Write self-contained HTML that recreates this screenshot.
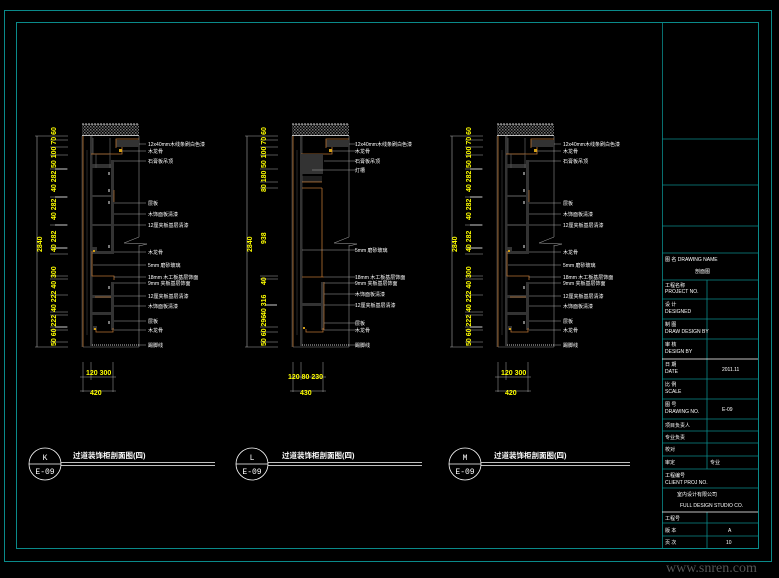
<!DOCTYPE html>
<html><head><meta charset="utf-8"><style>
html,body{margin:0;padding:0;background:#000;width:779px;height:578px;overflow:hidden}
svg{display:block}
.t{font-family:"Liberation Sans","Noto Sans CJK SC",sans-serif;fill:#fff;font-size:5px}
.y{font-family:"Liberation Sans",sans-serif;fill:#ff0;font-size:7px;font-weight:bold}
.tb{font-family:"Liberation Sans","Noto Sans CJK SC",sans-serif;fill:#fff;font-size:5px}
</style></head><body>
<svg width="779" height="578" viewBox="0 0 779 578" xmlns="http://www.w3.org/2000/svg">
<defs>
<pattern id="hat" width="3" height="3" patternUnits="userSpaceOnUse"><rect width="3" height="3" fill="#000"/><rect width="1.5" height="1.5" fill="#777"/><rect x="1.5" y="1.5" width="1.5" height="1.5" fill="#555"/></pattern>
<g id="base">
 <!-- slab -->
 <rect x="52" y="4" width="57" height="11" fill="url(#hat)"/>
 <line x1="52" y1="4" x2="109" y2="4" stroke="#fff" stroke-width="0.7" stroke-dasharray="2,1"/>
 <line x1="52" y1="15.5" x2="109" y2="15.5" stroke="#fff" stroke-width="0.8"/>
 <!-- overall dimension -->
 <line x1="7" y1="16" x2="7" y2="227" stroke="#aaa" stroke-width="0.6"/>
 <line x1="5" y1="16" x2="38" y2="16" stroke="#aaa" stroke-width="0.5"/>
 <line x1="5" y1="227" x2="38" y2="227" stroke="#aaa" stroke-width="0.5"/>
 <text class="y" transform="translate(12,132) rotate(-90)">2840</text>
 <!-- wall -->
 <line x1="53" y1="16" x2="53" y2="227" stroke="#b87333" stroke-width="0.8"/>
 <line x1="52" y1="16" x2="52" y2="227" stroke="#444" stroke-width="0.8"/>
 <line x1="57" y1="30" x2="57" y2="215" stroke="#333" stroke-width="0.8"/>
 <rect x="60" y="16" width="2.5" height="210" fill="#333"/>
 <!-- right dashed/boundary -->
 <line x1="109" y1="16" x2="109" y2="117" stroke="#aaa" stroke-width="0.5"/>
 <line x1="109" y1="125" x2="109" y2="227" stroke="#aaa" stroke-width="0.5"/>
 <polyline points="109,117 94,123 117,124 109,126" fill="none" stroke="#aaa" stroke-width="0.5"/>
 <line x1="62" y1="225" x2="109" y2="225" stroke="#fff" stroke-width="0.8" stroke-dasharray="1,1"/>
 <line x1="53" y1="227" x2="109" y2="227" stroke="#888" stroke-width="0.5"/>
 <!-- bottom dims -->
 <line x1="53" y1="242" x2="53" y2="272" stroke="#aaa" stroke-width="0.5"/>
 <line x1="61" y1="242" x2="61" y2="260" stroke="#aaa" stroke-width="0.5"/>
 <line x1="83" y1="242" x2="83" y2="272" stroke="#aaa" stroke-width="0.5"/>
 <line x1="50" y1="257" x2="86" y2="257" stroke="#aaa" stroke-width="0.5"/>
 <line x1="50" y1="271" x2="86" y2="271" stroke="#aaa" stroke-width="0.5"/>
</g>
<g id="cab">
 <!-- ceiling box -->
 <rect x="86" y="20" width="23" height="7" fill="#333"/>
 <polyline points="86,28 86,19 109,19" fill="none" stroke="#b87333" stroke-width="0.8"/>
 <polyline points="63,18 63,34 80,34 80,18" fill="none" stroke="#555" stroke-width="0.8"/>
 <polyline points="61,34 92,34 92,27" fill="none" stroke="#b87333" stroke-width="0.8"/>
 <rect x="89" y="29" width="3" height="3" fill="#d4a017"/>
 <rect x="61" y="44" width="22" height="4" fill="#333"/>
 <line x1="66" y1="34" x2="66" y2="48" stroke="#555" stroke-width="0.8"/>
 <line x1="80" y1="34" x2="80" y2="48" stroke="#555" stroke-width="0.8"/>
 <!-- upper cabinet -->
 <rect x="81" y="40" width="3" height="93" fill="#333"/>
 <rect x="61" y="75" width="21" height="2" fill="#333"/>
 <rect x="61" y="104" width="21" height="2" fill="#333"/>
 <rect x="61" y="131" width="23" height="3" fill="#333"/>
 <line x1="84" y1="70" x2="84" y2="82" stroke="#b87333" stroke-width="0.7"/>
 <rect x="62" y="127" width="5" height="5" fill="#333"/>
 <rect x="63" y="130" width="2" height="2" fill="#d4a017"/>
 <rect x="78" y="52" width="2" height="3" fill="#777"/>
 <rect x="78" y="69" width="2" height="3" fill="#777"/>
 <rect x="78" y="81" width="2" height="3" fill="#777"/>
 <rect x="78" y="125" width="2" height="3" fill="#777"/>
 <!-- middle -->
 <polyline points="62,131 62,156 84,156 84,160" fill="none" stroke="#b87333" stroke-width="0.8"/>
 <!-- lower cabinet -->
 <rect x="81" y="162" width="3" height="48" fill="#333"/>
 <rect x="61" y="175" width="22" height="3" fill="#333"/>
 <rect x="61" y="192" width="22" height="3" fill="#333"/>
 <line x1="65" y1="177" x2="81" y2="177" stroke="#b87333" stroke-width="0.7"/>
 <polyline points="66,209 66,212 83,212 83,208" fill="none" stroke="#b87333" stroke-width="0.8"/>
 <rect x="63" y="206" width="4" height="4" fill="#333"/>
 <rect x="64" y="208" width="2" height="2" fill="#d4a017"/>
 <rect x="78" y="166" width="2" height="3" fill="#777"/>
 <rect x="78" y="201" width="2" height="3" fill="#777"/>
 <!-- dim ticks -->
 <g stroke="#aaa" stroke-width="0.5">
  <line x1="20" y1="20" x2="38" y2="20"/><line x1="20" y1="27" x2="38" y2="27"/><line x1="20" y1="35" x2="38" y2="35"/>
  <line x1="20" y1="49" x2="38" y2="49"/><line x1="20" y1="77" x2="38" y2="77"/><line x1="20" y1="105" x2="38" y2="105"/>
  <line x1="20" y1="128" x2="38" y2="128"/><line x1="20" y1="134" x2="38" y2="134"/><line x1="20" y1="156" x2="38" y2="156"/>
  <line x1="20" y1="159" x2="38" y2="159"/><line x1="20" y1="175" x2="38" y2="175"/><line x1="20" y1="192" x2="38" y2="192"/>
  <line x1="20" y1="195" x2="38" y2="195"/><line x1="20" y1="207" x2="38" y2="207"/><line x1="20" y1="210" x2="38" y2="210"/>
  <line x1="20" y1="222" x2="38" y2="222"/>
 </g>
 <g fill="#666"><rect x="25" y="48" width="12" height="2"/><rect x="25" y="76" width="12" height="2"/><rect x="25" y="104" width="12" height="2"/><rect x="25" y="127" width="12" height="2"/><rect x="25" y="206" width="12" height="2"/></g>
 <text class="y" transform="translate(26,48) rotate(-90)">50 100 70 60</text>
 <text class="y" transform="translate(26,72) rotate(-90)">40  282</text>
 <text class="y" transform="translate(26,100) rotate(-90)">40  282</text>
 <text class="y" transform="translate(26,132) rotate(-90)">40  282</text>
 <text class="y" transform="translate(26,158) rotate(-90)">300</text>
 <text class="y" transform="translate(26,192) rotate(-90)">40 222 40</text>
 <text class="y" transform="translate(26,226) rotate(-90)">50 60 222</text>
 <text class="y" x="56" y="255" font-size="6">120  300</text>
 <text class="y" x="60" y="275" font-size="6">420</text>
 <!-- leaders -->
 <g stroke="#aaa" stroke-width="0.5">
  <line x1="109" y1="24" x2="116" y2="24"/><line x1="92" y1="31" x2="116" y2="31"/><line x1="84" y1="41" x2="116" y2="41"/>
  <line x1="84" y1="83" x2="116" y2="83"/><line x1="84" y1="94" x2="116" y2="94"/><line x1="84" y1="105" x2="116" y2="105"/>
  <line x1="84" y1="132" x2="116" y2="132"/><line x1="63" y1="145" x2="116" y2="145"/><line x1="84" y1="157" x2="116" y2="157"/>
  <line x1="84" y1="163" x2="116" y2="163"/><line x1="84" y1="176" x2="116" y2="176"/><line x1="84" y1="186" x2="116" y2="186"/>
  <line x1="84" y1="201" x2="116" y2="201"/><line x1="84" y1="210" x2="116" y2="210"/><line x1="109" y1="225" x2="116" y2="225"/>
 </g>
 <g class="t">
  <text x="118" y="26">12x40mm木线条刷白色漆</text><text x="118" y="33">木龙骨</text><text x="118" y="43">石膏板吊顶</text>
  <text x="118" y="85">层板</text><text x="118" y="96">木饰面板清漆</text><text x="118" y="107">12厘夹板基层清漆</text>
  <text x="118" y="134">木龙骨</text><text x="118" y="147">5mm 磨砂玻璃</text><text x="118" y="159">18mm 木工板基层饰面</text>
  <text x="118" y="165">9mm 夹板基层饰面</text><text x="118" y="178">12厘夹板基层清漆</text><text x="118" y="188">木饰面板清漆</text>
  <text x="118" y="203">层板</text><text x="118" y="212">木龙骨</text><text x="118" y="227">踢脚线</text>
 </g>
</g>
</defs>

<!-- frames -->
<rect x="4.5" y="10.5" width="767" height="551" fill="none" stroke="#0a8a8a" stroke-width="1"/>
<rect x="16.5" y="22.5" width="742" height="526" fill="none" stroke="#0a8a8a" stroke-width="1"/>

<!-- K -->
<g transform="translate(30,120)"><use href="#base"/><use href="#cab"/></g>
<!-- M -->
<g transform="translate(445,120)"><use href="#base"/><use href="#cab"/></g>
<!-- L -->
<g transform="translate(240,120)">
 <use href="#base"/>
 <rect x="86" y="20" width="23" height="7" fill="#333"/>
 <polyline points="86,28 86,19 109,19" fill="none" stroke="#b87333" stroke-width="0.8"/>
 <polyline points="61,34 92,34 92,27" fill="none" stroke="#b87333" stroke-width="0.8"/>
 <rect x="89" y="29" width="3" height="3" fill="#d4a017"/>
 <rect x="60" y="34" width="23" height="20" fill="#333"/>
 <g stroke="#777" stroke-width="0.5"><line x1="62" y1="57" x2="82" y2="57"/><line x1="62" y1="59" x2="82" y2="59"/><line x1="62" y1="61" x2="82" y2="61"/></g>
 <line x1="62" y1="62" x2="82" y2="62" stroke="#b87333" stroke-width="0.8"/>
 <line x1="62" y1="68" x2="82" y2="68" stroke="#b87333" stroke-width="0.8"/>
 <line x1="82" y1="68" x2="82" y2="157" stroke="#b87333" stroke-width="0.8"/>
 <line x1="62" y1="157" x2="84" y2="157" stroke="#b87333" stroke-width="0.8"/>
 <rect x="81" y="162" width="3" height="48" fill="#333"/>
 <line x1="84" y1="162" x2="84" y2="210" stroke="#b87333" stroke-width="0.7"/>
 <rect x="61" y="183" width="22" height="3" fill="#333"/>
 <polyline points="66,209 66,212 83,212 83,208" fill="none" stroke="#b87333" stroke-width="0.8"/>
 <rect x="63" y="207" width="2" height="2" fill="#d4a017"/>
 <g stroke="#aaa" stroke-width="0.5">
  <line x1="20" y1="20" x2="38" y2="20"/><line x1="20" y1="27" x2="38" y2="27"/><line x1="20" y1="35" x2="38" y2="35"/>
  <line x1="20" y1="49" x2="38" y2="49"/><line x1="20" y1="62" x2="38" y2="62"/><line x1="20" y1="68" x2="38" y2="68"/>
  <line x1="20" y1="156" x2="38" y2="156"/><line x1="20" y1="159" x2="38" y2="159"/><line x1="20" y1="207" x2="38" y2="207"/>
  <line x1="20" y1="212" x2="38" y2="212"/><line x1="20" y1="222" x2="38" y2="222"/>
 </g>
 <rect x="25" y="184" width="12" height="2" fill="#666"/>
 <text class="y" transform="translate(26,48) rotate(-90)">50 100 70 60</text>
 <text class="y" transform="translate(26,72) rotate(-90)">80 180</text>
 <text class="y" transform="translate(26,124) rotate(-90)">938</text>
 <text class="y" transform="translate(26,165) rotate(-90)">40</text>
 <text class="y" transform="translate(26,196) rotate(-90)">40 316</text>
 <text class="y" transform="translate(26,226) rotate(-90)">50 60 296</text>
 <text class="y" x="48" y="259" font-size="6">120 80 230</text>
 <text class="y" x="60" y="275" font-size="6">430</text>
 <g stroke="#aaa" stroke-width="0.5">
  <line x1="109" y1="24" x2="116" y2="24"/><line x1="92" y1="31" x2="116" y2="31"/><line x1="84" y1="41" x2="116" y2="41"/>
  <line x1="72" y1="50" x2="116" y2="50"/><line x1="62" y1="130" x2="116" y2="130"/><line x1="84" y1="157" x2="116" y2="157"/>
  <line x1="84" y1="163" x2="116" y2="163"/><line x1="84" y1="174" x2="116" y2="174"/><line x1="84" y1="185" x2="116" y2="185"/>
  <line x1="84" y1="203" x2="116" y2="203"/><line x1="84" y1="210" x2="116" y2="210"/><line x1="109" y1="225" x2="116" y2="225"/>
 </g>
 <g class="t">
  <text x="115" y="26">12x40mm木线条刷白色漆</text><text x="115" y="33">木龙骨</text><text x="115" y="43">石膏板吊顶</text>
  <text x="115" y="52">灯槽</text><text x="115" y="132">5mm 磨砂玻璃</text><text x="115" y="159">18mm 木工板基层饰面</text>
  <text x="115" y="165">9mm 夹板基层饰面</text><text x="115" y="176">木饰面板清漆</text><text x="115" y="187">12厘夹板基层清漆</text>
  <text x="115" y="205">层板</text><text x="115" y="212">木龙骨</text><text x="115" y="227">踢脚线</text>
 </g>
</g>

<!-- title marks -->
<g stroke="#fff" stroke-width="0.8" fill="none">
 <circle cx="45" cy="464" r="16"/><line x1="29" y1="464" x2="61" y2="464"/>
 <line x1="61" y1="462.5" x2="215" y2="462.5"/><line x1="61" y1="465.5" x2="215" y2="465.5"/>
 <circle cx="252" cy="464" r="16"/><line x1="236" y1="464" x2="268" y2="464"/>
 <line x1="268" y1="462.5" x2="422" y2="462.5"/><line x1="268" y1="465.5" x2="422" y2="465.5"/>
 <circle cx="465" cy="464" r="16"/><line x1="449" y1="464" x2="481" y2="464"/>
 <line x1="481" y1="462.5" x2="630" y2="462.5"/><line x1="481" y1="465.5" x2="630" y2="465.5"/>
</g>
<g font-family="Liberation Mono,monospace" fill="#fff" font-size="8" text-anchor="middle">
 <text x="45" y="460">K</text><text x="45" y="474">E-09</text>
 <text x="252" y="460">L</text><text x="252" y="474">E-09</text>
 <text x="465" y="460">M</text><text x="465" y="474">E-09</text>
</g>
<g font-family="Liberation Sans,Noto Sans CJK SC,sans-serif" fill="#fff" font-size="7.5" font-weight="bold">
 <text x="73" y="458">过道装饰柜剖面图(四)</text>
 <text x="282" y="458">过道装饰柜剖面图(四)</text>
 <text x="494" y="458">过道装饰柜剖面图(四)</text>
</g>

<!-- title block -->
<g stroke="#0a8a8a" stroke-width="0.8">
 <line x1="662.5" y1="22" x2="662.5" y2="548"/>
 <line x1="662" y1="139" x2="758" y2="139"/><line x1="662" y1="185" x2="758" y2="185"/>
 <line x1="662" y1="226" x2="758" y2="226"/><line x1="662" y1="253" x2="758" y2="253"/>
 <line x1="662" y1="280" x2="758" y2="280"/><line x1="662" y1="299" x2="758" y2="299"/>
 <line x1="662" y1="319" x2="758" y2="319"/><line x1="662" y1="339" x2="758" y2="339"/>
 <line x1="662" y1="379" x2="758" y2="379"/><line x1="662" y1="399" x2="758" y2="399"/>
 <line x1="662" y1="419" x2="758" y2="419"/><line x1="662" y1="431" x2="758" y2="431"/>
 <line x1="662" y1="443" x2="758" y2="443"/><line x1="662" y1="456" x2="758" y2="456"/>
 <line x1="662" y1="469" x2="758" y2="469"/><line x1="662" y1="488" x2="758" y2="488"/>
 <line x1="662" y1="523" x2="758" y2="523"/><line x1="662" y1="536" x2="758" y2="536"/>
 <line x1="707" y1="280" x2="707" y2="359"/><line x1="707" y1="359" x2="707" y2="469"/>
 <line x1="707" y1="512" x2="707" y2="548"/>
</g>
<line x1="662" y1="359" x2="758" y2="359" stroke="#fff" stroke-width="0.8"/>
<line x1="662" y1="512" x2="758" y2="512" stroke="#fff" stroke-width="0.8"/>
<g class="tb">
 <text x="665" y="261">图  名 DRAWING NAME</text><text x="695" y="273">剖面图</text>
 <text x="665" y="287">工程名称</text><text x="665" y="293">PROJECT NO.</text>
 <text x="665" y="306">设  计</text><text x="665" y="313">DESIGNED</text>
 <text x="665" y="326">制  图</text><text x="665" y="333">DRAW DESIGN BY</text>
 <text x="665" y="346">审  核</text><text x="665" y="353">DESIGN BY</text>
 <text x="665" y="366">日  期</text><text x="665" y="373">DATE</text><text x="722" y="371">2011.11</text>
 <text x="665" y="386">比  例</text><text x="665" y="393">SCALE</text>
 <text x="665" y="406">图  号</text><text x="665" y="413">DRAWING NO.</text><text x="722" y="411">E-09</text>
 <text x="665" y="427">项目负责人</text><text x="665" y="439">专业负责</text><text x="665" y="451">校对</text>
 <text x="665" y="464">审定</text><text x="710" y="464">专业</text>
 <text x="665" y="477">工程编号</text><text x="665" y="484">CLIENT PROJ NO.</text>
 <text x="677" y="496">室内设计有限公司</text><text x="680" y="507">FULL DESIGN STUDIO CO.</text>
 <text x="665" y="520">工程号</text>
 <text x="665" y="532">版  本</text><text x="728" y="532">A</text>
 <text x="665" y="544">页  次</text><text x="726" y="544">10</text>
</g>
<text x="666" y="572" font-family="Liberation Serif,serif" font-size="14" fill="#555">www.snren.com</text>
</svg>
</body></html>
